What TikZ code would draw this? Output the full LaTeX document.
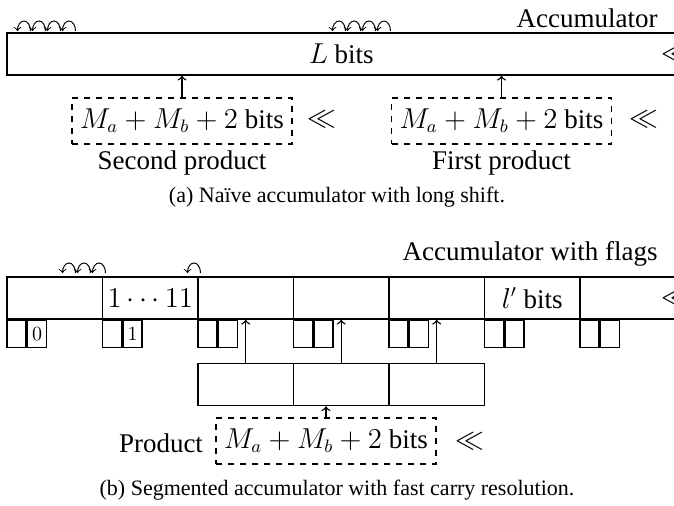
\documentclass[tikz,border=0pt]{standalone}
\usepackage{amssymb}
\usepackage{fontspec}
\setmainfont{Liberation Serif}
\usetikzlibrary{positioning}

\tikzset{
  seg/.style={draw, thick, inner sep=0pt, minimum width=47.75pt, minimum height=21pt},
  flag/.style={draw, thick, inner sep=0pt, minimum width=9.5pt, minimum height=13.5pt,
    font=\fontsize{10}{12}\selectfont},
  prod/.style={draw, thick, dashed, inner sep=0pt, minimum width=110pt, minimum height=23pt},
  carry/.style={->, line width=0.5pt},
  link/.style={->, line width=0.7pt},
  capt/.style={font=\fontsize{11}{13}\selectfont}
}

\begin{document}
\begin{tikzpicture}[x=0.5pt, y=-0.5pt, font=\fontsize{13.5}{16}\selectfont]
    \useasboundingbox (0,0) rectangle (674,506);
    \clip (0,0) rectangle (674,506);

    % (a) Long accumulator
    \node[seg, minimum width=334.25pt] (acc) at (341.25,54) {$L$ bits};
    \node[anchor=south east, inner sep=0pt] (acclbl) at (658,28) {Accumulator};
    \node[anchor=west, inner sep=0pt] (accll) at (661,54) {$\ll$};
    % carries
    \foreach \x in {17,32,47,62,332,347,362,377}
        \draw[carry] (\x+13.5,31) arc[start angle=0, end angle=180, x radius=3.25pt, y radius=5pt];

    % Products
    \node[prod] (sec) at (182,121) {$M_a + M_b + 2$ bits};
    \node[prod] (fst) at (501.5,121) {$M_a + M_b + 2$ bits};
    \node (secll) at (322,119) {$\ll$};
    \node (fstll) at (644,119) {$\ll$};
    \node (seclbl) at (182,163) {Second product};
    \node (fstlbl) at (501.5,163) {First product};
    \draw[link] (sec.north) -- (sec.north |- acc.south);
    \draw[link] (fst.north) -- (fst.north |- acc.south);

    \node[capt] (capa) at (337,197) {(a) Naïve accumulator with long shift.};

    % (b) Segmented accumulator
    \foreach \i/\t in {1/{},2/{$1\cdots11$},3/{},4/{},5/{},6/{$l'$ bits},7/{}}
        \node[seg] (s\i) at ({54.75+95.5*(\i-1)},298) {\t};
    \foreach \i/\v in {1/0,2/1,3/{},4/{},5/{},6/{},7/{}} {
        \node[flag, anchor=north west] (fl\i) at (s\i.south west) {};
        \node[flag, right=0pt of fl\i] (fr\i) {$\v$};
    }
    \node[anchor=west, inner sep=0pt] (sll) at (661,298) {$\ll$};
    \node[anchor=south east, inner sep=0pt] (slbl) at (658,267) {Accumulator with flags};
    % carries
    \foreach \x in {62,77,92,187}
        \draw[carry] (\x+13.5,273) arc[start angle=0, end angle=180, x radius=3.25pt, y radius=5pt];

    % Split product
    \foreach \i in {1,2,3}
        \node[seg] (p\i) at ({245.75+95.5*(\i-1)},384.5) {};
    \foreach \i/\j in {1/3,2/4,3/5}
        \draw[link] (p\i) -- (s\j);

    \node[prod] (pr) at (326,441) {$M_a + M_b + 2$ bits};
    \node (prlbl) at (161,443) {Product};
    \node (prll) at (470,441) {$\ll$};
    \draw[link] (pr.north) -- (pr.north |- p2.south);

    \node[capt] (capb) at (337,490) {(b) Segmented accumulator with fast carry resolution.};
\end{tikzpicture}
\end{document}
